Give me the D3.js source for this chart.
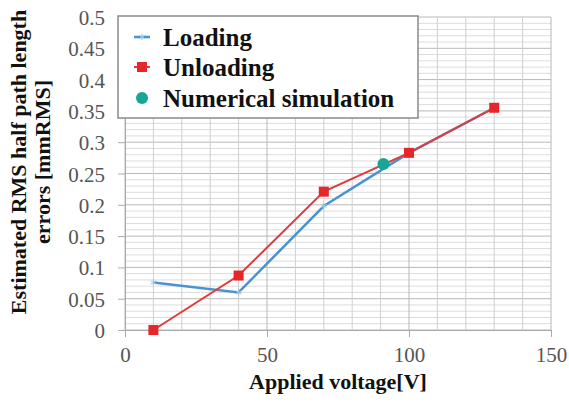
<!DOCTYPE html>
<html>
<head>
<meta charset="UTF-8">
<title>RMS half path length errors</title>
<script src="https://d3js.org/d3.v7.min.js"></script>
<style>
    body { margin: 0; background: #fff; }
</style>
</head>
<body>
<div class="canvas"></div>
<script>
    // data
    const loadingX = [10, 40, 70, 100, 130]
    const loadingY = [0.076, 0.06, 0.198, 0.283, 0.355]
    const unloadingX = [10, 40, 70, 100, 130]
    const unloadingY = [0, 0.087, 0.221, 0.283, 0.355]
    const simX = [91]
    const simY = [0.265]
    const xTicks = [0, 50, 100, 150]
    const yTicks = [0, 0.05, 0.1, 0.15, 0.2, 0.25, 0.3, 0.35, 0.4, 0.45, 0.5]
    const legendNames = ['Loading', 'Unloading', 'Numerical simulation']

    const serif = '"Liberation Serif", "Times New Roman", serif'
    const width = 569
    const height = 403
    const [ml, mr, mt, mb] = [125, 18, 17, 73]

    const svg = d3.select('.canvas').append('svg')
        .attr('width', width)
        .attr('height', height)
        .attr('font-family', serif)

    const x = d3.scaleLinear().domain([0, 150]).range([ml, width - mr])
    const y = d3.scaleLinear().domain([0, 0.5]).range([height - mb, mt])

    const grid = svg.append('g')
    // minor horizontal lines every 0.01
    grid.selectAll('line.hmin')
        .data(d3.range(0, 51).map(d => d / 100))
        .enter().append('line')
        .attr('x1', x(0)).attr('x2', x(150))
        .attr('y1', d => y(d)).attr('y2', d => y(d))
        .attr('stroke', d => Math.round(d * 100) % 5 === 0 ? '#b8b8b8' : '#dcdcdc')
        .attr('stroke-width', 1)
    // vertical lines every 10
    grid.selectAll('line.vmin')
        .data(d3.range(0, 151, 10))
        .enter().append('line')
        .attr('x1', d => x(d)).attr('x2', d => x(d))
        .attr('y1', y(0.5)).attr('y2', y(0))
        .attr('stroke', d => d % 50 === 0 ? '#b8b8b8' : '#d0d0d0')
        .attr('stroke-width', 1)

    // axes
    const yAxis = d3.axisLeft(y).tickValues(yTicks).tickSize(7).tickPadding(13)
        .tickFormat(d => String(+d.toFixed(2)))
    const xAxis = d3.axisBottom(x).tickValues(xTicks).tickSize(7).tickPadding(10)

    const yG = svg.append('g').attr('transform', `translate(${x(0)},0)`).call(yAxis)
    const xG = svg.append('g').attr('transform', `translate(0,${y(0)})`).call(xAxis)
    ;[yG, xG].forEach(g => {
        g.attr('font-family', serif).attr('font-size', 21)
        g.select('.domain').attr('stroke', '#aaa')
        g.selectAll('.tick line').attr('stroke', '#aaa')
        g.selectAll('.tick text').attr('fill', '#555')
    })
    yG.selectAll('.tick text').attr('dy', '0.36em')

    // series
    const line = d3.line().x(d => x(d[0])).y(d => y(d[1]))
    const loading = loadingX.map((v, i) => [v, loadingY[i]])
    const unloading = unloadingX.map((v, i) => [v, unloadingY[i]])
    const sim = simX.map((v, i) => [v, simY[i]])

    svg.append('path')
        .attr('d', line(loading))
        .attr('fill', 'none')
        .attr('stroke', '#4a93cf')
        .attr('stroke-width', 2.5)
    svg.selectAll('path.lm')
        .data(loading).enter().append('path')
        .attr('d', d3.symbol().type(d3.symbolAsterisk).size(30))
        .attr('transform', d => `translate(${x(d[0])},${y(d[1])})`)
        .attr('fill', 'none')
        .attr('stroke', '#9cc8ec')
        .attr('stroke-width', 1)

    svg.append('path')
        .attr('d', line(unloading))
        .attr('fill', 'none')
        .attr('stroke', '#e23a3c')
        .attr('stroke-width', 2)
    svg.selectAll('rect.um')
        .data(unloading).enter().append('rect')
        .attr('x', d => x(d[0]) - 5)
        .attr('y', d => y(d[1]) - 5)
        .attr('width', 10).attr('height', 10)
        .attr('fill', '#e5262b')

    svg.selectAll('circle.sm')
        .data(sim).enter().append('circle')
        .attr('cx', d => x(d[0]))
        .attr('cy', d => y(d[1]))
        .attr('r', 6)
        .attr('fill', '#17a596')

    // legend
    const lg = svg.append('g').attr('transform', 'translate(118,16)')
    lg.append('rect')
        .attr('width', 300).attr('height', 102)
        .attr('fill', '#fff')
        .attr('stroke', '#8a8a8a')
        .attr('stroke-width', 1.5)
    const rows = [21, 51, 82]
    legendNames.forEach((name, i) => {
        const row = lg.append('g').attr('transform', `translate(24,${rows[i]})`)
        if (i === 0) {
            row.append('line').attr('x1', -8).attr('x2', 8)
                .attr('stroke', '#4a93cf').attr('stroke-width', 2.5)
            row.append('path')
                .attr('d', d3.symbol().type(d3.symbolAsterisk).size(30))
                .attr('fill', 'none').attr('stroke', '#9cc8ec')
        } else if (i === 1) {
            row.append('line').attr('x1', -8).attr('x2', 8)
                .attr('stroke', '#e23a3c').attr('stroke-width', 2)
            row.append('rect').attr('x', -5).attr('y', -5)
                .attr('width', 10).attr('height', 10).attr('fill', '#e5262b')
        } else {
            row.append('circle').attr('r', 6).attr('fill', '#17a596')
        }
        row.append('text')
            .attr('x', 21)
            .attr('dy', '0.35em')
            .attr('fill', '#111')
            .attr('font-size', 25)
            .attr('font-weight', 'bold')
            .text(name)
    })

    // axis titles
    svg.append('text')
        .attr('x', 338).attr('y', 389)
        .attr('text-anchor', 'middle')
        .attr('fill', '#111')
        .attr('font-size', 22)
        .attr('font-weight', 'bold')
        .text('Applied voltage[V]')

    const yt = svg.append('text')
        .attr('transform', 'translate(0,162) rotate(-90)')
        .attr('text-anchor', 'middle')
        .attr('fill', '#111')
        .attr('font-size', 22)
        .attr('font-weight', 'bold')
    yt.append('tspan').attr('x', 0).attr('y', 26).text('Estimated RMS half path length')
    yt.append('tspan').attr('x', 0).attr('y', 50).text('errors [mmRMS]')
</script>
</body>
</html>
